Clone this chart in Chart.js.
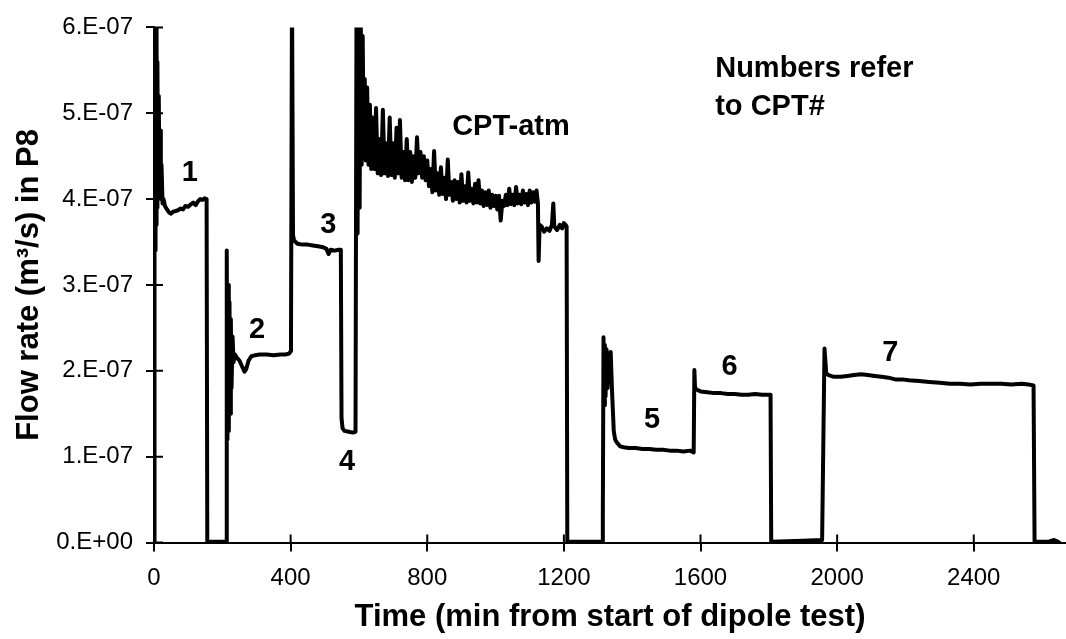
<!DOCTYPE html>
<html lang="en">
<head>
    <meta charset="UTF-8">
    <title>Flow rate in P8</title>
    <script src="https://cdn.jsdelivr.net/npm/chart.js"></script>
    <style>
        body {
            margin: 0;
            background: #fff;
        }
        canvas {
            display: block;
        }
    </style>
</head>
<body>
    <canvas id="myChart" width="1066" height="639"></canvas>

    <script>
        // time in minutes, flow in units of 1E-07 m3/s
        const time = [
            0, 1, 2, 3, 4, 5, 6, 7, 8, 9, 10, 12, 14, 16, 18, 20, 22, 25, 28, 32,
            38, 45, 50, 55, 62, 70, 78, 85, 92, 100, 108, 115, 122, 128, 135, 142, 148, 154, 156,
            185, 212, 213, 215, 217, 219, 221, 223, 225, 227, 230, 233, 237,
            243, 250, 258, 265, 270, 277, 285, 295, 310, 330, 350, 370, 385, 395, 401,
            404, 407, 410, 420, 435, 450, 465, 480, 495, 505, 511, 517, 530, 540, 547,
            549, 552, 558, 570, 582, 590,
            593, 596, 599, 602, 605, 608, 611, 614, 617, 620, 624, 628, 632, 636, 640,
            645, 650, 655, 660, 665, 670, 675, 680, 685, 690, 695, 700, 705, 710, 715,
            720, 725, 730, 735, 740, 745, 750, 755, 760, 765, 770, 775, 780, 785, 790,
            795, 800, 805, 810, 815, 820, 825, 830, 835, 840, 845, 850, 855, 860, 865,
            870, 875, 880, 885, 890, 895, 900, 905, 910, 915, 920, 925, 930, 935, 940,
            945, 950, 955, 960, 965, 970, 975, 980, 985, 990, 995, 1000, 1005, 1010, 1015,
            1020, 1025, 1030, 1035, 1040, 1045, 1050, 1055, 1060, 1065, 1070, 1075, 1080, 1085, 1090,
            1095, 1100, 1105, 1110, 1115, 1120, 1124, 1126, 1129, 1135, 1142, 1150, 1158, 1165, 1169,
            1172, 1180, 1188, 1195, 1200, 1205, 1208, 1210,
            1260, 1312, 1314, 1316, 1318, 1320, 1322, 1325, 1328, 1331, 1334, 1337, 1341, 1346, 1350,
            1356, 1365, 1375, 1390, 1410, 1430, 1450, 1470, 1490, 1510, 1530, 1550, 1570, 1580,
            1582, 1584, 1590, 1600, 1620, 1640, 1660, 1680, 1700, 1720, 1740, 1760, 1780, 1800, 1805,
            1807, 1900, 1956, 1963, 1968, 1975, 1990, 2010, 2030, 2050, 2070, 2090, 2110, 2130, 2150,
            2170, 2190, 2210, 2240, 2270, 2300, 2330, 2360, 2390, 2420, 2450, 2480, 2510, 2540, 2560,
            2575, 2578, 2600, 2620, 2635, 2645, 2650
        ];
        const flow = [
            0.01, 0.3, 6.5, 3.4, 6.4, 3.5, 6.2, 3.7, 5.9, 3.9, 5.6, 4.0, 5.2, 4.1, 4.8, 4.0, 4.4, 3.95, 4.0, 3.92,
            3.88, 3.84, 3.83, 3.85, 3.86, 3.87, 3.89, 3.88, 3.92, 3.91, 3.94, 3.96, 3.93, 3.97, 4.0, 3.99, 4.01, 4.0, 0.01,
            0.01, 0.01, 3.4, 1.2, 3.0, 1.3, 2.8, 1.5, 2.6, 1.8, 2.4, 2.1, 2.19,
            2.15, 2.12, 2.05, 1.99, 2.02, 2.12, 2.17, 2.18, 2.19, 2.19, 2.18, 2.19, 2.19, 2.2, 2.23,
            6.5, 3.58, 3.52, 3.48, 3.47, 3.47, 3.46, 3.45, 3.44, 3.42, 3.36, 3.41, 3.4, 3.41, 3.41,
            1.45, 1.33, 1.3, 1.29, 1.28, 1.29,
            6.5, 3.6, 6.5, 3.9, 6.3, 4.4, 5.9, 4.5, 5.4, 4.45, 5.3, 4.4, 5.1, 4.35, 4.95,
            4.35, 5.06, 4.3, 4.7, 4.28, 5.04, 4.3, 4.65, 4.27, 4.95, 4.28, 4.65, 4.25, 4.83, 4.3,
            4.92, 4.25, 4.55, 4.22, 4.7, 4.22, 4.55, 4.2, 4.5, 4.25, 4.72, 4.3, 4.55, 4.25, 4.5,
            4.22, 4.45, 4.15, 4.35, 4.08, 4.56, 4.1, 4.3, 4.05, 4.37, 4.06, 4.25, 4.0, 4.46, 4.05,
            4.2, 3.98, 4.22, 4.0, 4.2, 3.96, 4.29, 3.98, 4.15, 3.96, 4.31, 3.98, 4.12, 3.95, 4.18,
            3.96, 4.22, 3.95, 4.1, 3.92, 4.08, 3.93, 4.1, 3.9, 4.05, 3.92, 4.04, 3.88, 4.04, 3.75,
            3.98, 3.92, 4.05, 3.93, 4.12, 3.94, 4.05, 3.93, 4.14, 3.95, 4.05, 3.94, 4.1, 3.96, 4.06,
            3.93, 4.1, 3.96, 4.08, 3.97, 4.1, 3.95, 3.28, 3.7, 3.68, 3.62, 3.66, 3.63, 3.7, 3.95,
            3.68, 3.64, 3.7, 3.66, 3.72, 3.7, 3.68, 0.01,
            0.01, 0.01, 0.3, 2.39, 1.6, 2.3, 1.7, 2.25, 1.8, 2.2, 1.9, 2.22, 1.76, 1.3, 1.2,
            1.16, 1.12, 1.11, 1.1, 1.1, 1.09, 1.09, 1.08, 1.08, 1.07, 1.07, 1.06, 1.07, 1.05,
            2.01, 1.8, 1.78, 1.76, 1.75, 1.74, 1.74, 1.73, 1.73, 1.72, 1.72, 1.73, 1.72, 1.72, 1.72,
            0.01, 0.02, 0.03, 2.26, 1.97, 1.95, 1.93, 1.93, 1.94, 1.95, 1.96, 1.95, 1.94, 1.93, 1.92,
            1.9, 1.9, 1.89, 1.88, 1.87, 1.86, 1.85, 1.85, 1.84, 1.85, 1.85, 1.85, 1.84, 1.85, 1.84,
            1.83, 0.01, 0.01, 0.01, 0.03, 0.01, 0
        ];

        const xTicks = [0, 400, 800, 1200, 1600, 2000, 2400];
        const yTickLabels = ['0.E+00', '1.E-07', '2.E-07', '3.E-07', '4.E-07', '5.E-07', '6.E-07'];

        // text notes on the plot, placed in data units
        const noteText = ['1', '2', '3', '4', '5', '6', '7', 'CPT-atm'];
        const noteTime = [105, 302, 510, 565, 1458, 1685, 2156, 1045];
        const noteFlow = [4.30, 2.48, 3.70, 0.94, 1.43, 2.04, 2.21, 4.84];
        const boxText = ['Numbers refer', 'to CPT#'];
        const boxTime = 1643;
        const boxFlow = [5.51, 5.07];

        const FONT = '"Liberation Sans", Arial, sans-serif';

        const innerTicks = {
            id: 'innerTicks',
            afterDatasetsDraw(chart) {
                const { ctx, chartArea, scales } = chart;
                ctx.save();
                ctx.strokeStyle = '#000';
                ctx.lineWidth = 2;
                ctx.beginPath();
                scales.x.ticks.forEach(t => {
                    const px = scales.x.getPixelForValue(t.value);
                    ctx.moveTo(px, chartArea.bottom);
                    ctx.lineTo(px, chartArea.bottom - 8);
                });
                scales.y.ticks.forEach(t => {
                    const py = scales.y.getPixelForValue(t.value);
                    ctx.moveTo(chartArea.left, py);
                    ctx.lineTo(chartArea.left + 9, py);
                });
                ctx.stroke();
                ctx.restore();
            }
        };

        const notes = {
            id: 'notes',
            afterDraw(chart) {
                const { ctx, scales } = chart;
                ctx.save();
                ctx.fillStyle = '#000';
                ctx.font = 'bold 29px ' + FONT;
                ctx.textBaseline = 'middle';
                ctx.textAlign = 'center';
                noteText.forEach((txt, i) => {
                    ctx.fillText(txt, scales.x.getPixelForValue(noteTime[i]), scales.y.getPixelForValue(noteFlow[i]));
                });
                ctx.textAlign = 'left';
                boxText.forEach((txt, i) => {
                    ctx.fillText(txt, scales.x.getPixelForValue(boxTime), scales.y.getPixelForValue(boxFlow[i]));
                });
                ctx.restore();
            }
        };

        const ctx = document.getElementById('myChart').getContext('2d');
        const chart = new Chart(ctx, {
            type: 'line',
            data: {
                datasets: [{
                    data: time.map((t, i) => ({ x: t, y: flow[i] })),
                    borderColor: '#000',
                    borderWidth: 4,
                    borderJoinStyle: 'round',
                    borderCapStyle: 'round',
                    pointRadius: 0,
                    fill: false,
                    tension: 0
                }]
            },
            options: {
                responsive: false,
                animation: false,
                devicePixelRatio: 1,
                layout: { padding: { top: 22, left: 0, right: 0, bottom: 0 } },
                plugins: {
                    legend: { display: false },
                    tooltip: { enabled: false }
                },
                scales: {
                    x: {
                        type: 'linear',
                        min: 0,
                        max: 2670,
                        afterFit: s => { s.height = 96.5; },
                        afterBuildTicks: s => { s.ticks = xTicks.map(v => ({ value: v })); },
                        border: { color: '#000', width: 2 },
                        grid: { drawOnChartArea: false, color: '#000', lineWidth: 2, tickLength: 9 },
                        ticks: {
                            color: '#000',
                            font: { family: FONT, size: 24 },
                            padding: 12,
                            maxRotation: 0,
                            callback: v => String(v)
                        },
                        title: {
                            display: true,
                            text: 'Time (min from start of dipole test)',
                            color: '#000',
                            font: { family: FONT, size: 31, weight: 'bold' },
                            padding: { top: 0, bottom: 3 }
                        }
                    },
                    y: {
                        min: 0,
                        max: 6,
                        afterFit: s => { s.width = 154; },
                        border: { color: '#000', width: 2 },
                        grid: { drawOnChartArea: false, color: '#000', lineWidth: 2, tickLength: 8 },
                        ticks: {
                            stepSize: 1,
                            color: '#000',
                            font: { family: FONT, size: 24 },
                            padding: 13,
                            callback: (v, i) => yTickLabels[i]
                        },
                        title: {
                            display: true,
                            text: 'Flow rate (m³/s) in P8',
                            color: '#000',
                            font: { family: FONT, size: 31, weight: 'bold' },
                            padding: { top: 11, bottom: 0 }
                        }
                    }
                }
            },
            plugins: [innerTicks, notes]
        });
    </script>
</body>
</html>
